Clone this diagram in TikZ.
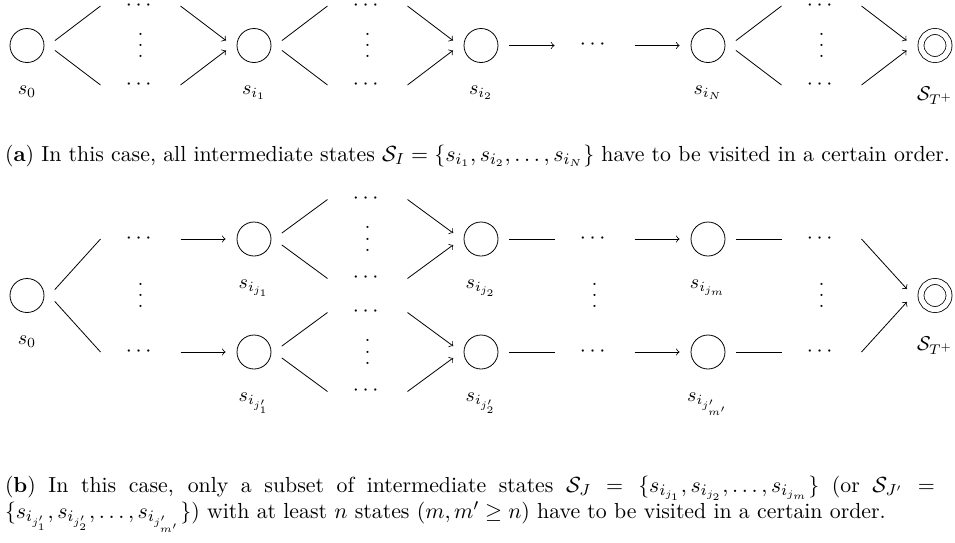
\documentclass[tikz,border=0pt]{standalone}
\usepackage{amsmath, amssymb}
\usepackage{tikz}
\usetikzlibrary{positioning}

\newcommand{\vdts}{\vbox{\baselineskip=5.6pt\lineskiplimit=0pt\hbox{.}\hbox{.}\hbox{.}}}

\tikzset{
    state/.style={draw, circle, minimum size=17pt, inner sep=0pt, outer sep=5.7pt, on grid},
    goal/.style={draw, circle, double, double distance=2.6pt, minimum size=14pt, inner sep=0pt, outer sep=7.4pt, on grid},
    dots/.style={minimum width=40pt, inner sep=0pt, outer sep=0pt, text height=4pt, text depth=-1.5pt, font=\fontsize{11}{13}\selectfont, on grid},
    vdot/.style={inner sep=0pt, font=\fontsize{11}{13}\selectfont, on grid},
    lbl/.style={inner sep=0pt},
    caption/.style={inner sep=0pt, font=\fontsize{10.9}{13}\selectfont}
}

\begin{document}
\begin{tikzpicture}[x=0.5pt, y=-0.5pt]
        \useasboundingbox (0,0) rectangle (955,542);

        \node[state] (a0) at (27,45.5) {};
        \node[dots, above right=19.75pt and 56.75pt of a0] (a01u) {$\cdots$};
        \node[vdot, right=56.75pt of a0] (a01m) {\vdts};
        \node[dots, below right=19.75pt and 56.75pt of a0] (a01d) {$\cdots$};
        \node[state, right=113.5pt of a0] (a1) {};
        \node[dots, above right=19.75pt and 56.75pt of a1] (a12u) {$\cdots$};
        \node[vdot, right=56.75pt of a1] (a12m) {\vdts};
        \node[dots, below right=19.75pt and 56.75pt of a1] (a12d) {$\cdots$};
        \node[state, right=113.5pt of a1] (a2) {};
        \node[dots, right=56.75pt of a2] (a23) {$\cdots$};
        \node[state, right=113.5pt of a2] (a3) {};
        \node[dots, above right=19.75pt and 56.75pt of a3] (a34u) {$\cdots$};
        \node[vdot, right=56.75pt of a3] (a34m) {\vdts};
        \node[dots, below right=19.75pt and 56.75pt of a3] (a34d) {$\cdots$};
        \node[goal, right=113.5pt of a3] (a4) {};

        \node[lbl, below=6pt of a0] (a0l) {$s_0$};
        \node[lbl, below=6pt of a1] (a1l) {$s_{i_1}$};
        \node[lbl, below=6pt of a2] (a2l) {$s_{i_2}$};
        \node[lbl, below=6pt of a3] (a3l) {$s_{i_N}$};
        \node[lbl, below=6pt of a4] (a4l) {$\mathcal{S}_{T^+}$};

        \draw (a0.10) -- (a01u.west);
        \draw (a0.-10) -- (a01d.west);
        \draw[->] (a01u.east) -- (a1.170);
        \draw[->] (a01d.east) -- (a1.190);
        \draw (a1.10) -- (a12u.west);
        \draw (a1.-10) -- (a12d.west);
        \draw[->] (a12u.east) -- (a2.170);
        \draw[->] (a12d.east) -- (a2.190);
        \draw[->] (a2) -- (a23);
        \draw[->] (a23) -- (a3);
        \draw (a3.10) -- (a34u.west);
        \draw (a3.-10) -- (a34d.west);
        \draw[->] (a34u.east) -- (a4.170);
        \draw[->] (a34d.east) -- (a4.190);

        \node[caption] (capa) at (477.5,156) {(\textbf{a}) In this case, all intermediate states $\mathcal{S}_I = \{s_{i_1}, s_{i_2}, \dots, s_{i_N}\}$ have to be visited in a certain order.};

        \node[state] (b0) at (27,295.5) {};
        \node[dots, above right=28.25pt and 56.75pt of b0] (b01u) {$\cdots$};
        \node[vdot, right=56.75pt of b0] (b01m) {\vdts};
        \node[dots, below right=28.25pt and 56.75pt of b0] (b01d) {$\cdots$};
        \node[state, above right=28.25pt and 113.5pt of b0] (b1u) {};
        \node[state, below right=28.25pt and 113.5pt of b0] (b1d) {};
        \node[dots, above right=19.75pt and 56.75pt of b1u] (b12uu) {$\cdots$};
        \node[vdot, right=56.75pt of b1u] (b12um) {\vdts};
        \node[dots, below right=19.75pt and 56.75pt of b1u] (b12ud) {$\cdots$};
        \node[dots, above right=19.75pt and 56.75pt of b1d] (b12du) {$\cdots$};
        \node[vdot, right=56.75pt of b1d] (b12dm) {\vdts};
        \node[dots, below right=19.75pt and 56.75pt of b1d] (b12dd) {$\cdots$};
        \node[state, right=113.5pt of b1u] (b2u) {};
        \node[state, right=113.5pt of b1d] (b2d) {};
        \node[dots, right=56.75pt of b2u] (b23u) {$\cdots$};
        \node[vdot, below=28.25pt of b23u] (b23m) {\vdts};
        \node[dots, right=56.75pt of b2d] (b23d) {$\cdots$};
        \node[state, right=113.5pt of b2u] (b3u) {};
        \node[state, right=113.5pt of b2d] (b3d) {};
        \node[dots, right=56.75pt of b3u] (b34u) {$\cdots$};
        \node[vdot, below=28.25pt of b34u] (b34m) {\vdts};
        \node[dots, right=56.75pt of b3d] (b34d) {$\cdots$};
        \node[goal, below right=28.25pt and 113.5pt of b3u] (b4) {};

        \node[lbl, below=6pt of b0] (b0l) {$s_0$};
        \node[lbl, below=6pt of b1u] (b1ul) {$s_{i_{j_1}}$};
        \node[lbl, below=6pt of b1d] (b1dl) {$s_{i_{j'_1}}$};
        \node[lbl, below=6pt of b2u] (b2ul) {$s_{i_{j_2}}$};
        \node[lbl, below=6pt of b2d] (b2dl) {$s_{i_{j'_2}}$};
        \node[lbl, below=6pt of b3u] (b3ul) {$s_{i_{j_m}}$};
        \node[lbl, below=6pt of b3d] (b3dl) {$s_{i_{j'_{m'}}}$};
        \node[lbl, below=6pt of b4] (b4l) {$\mathcal{S}_{T^+}$};

        \draw (b0.12) -- (b01u.west);
        \draw (b0.-12) -- (b01d.west);
        \draw[->] (b01u) -- (b1u);
        \draw[->] (b01d) -- (b1d);
        \draw (b1u.12) -- (b12uu.west);
        \draw (b1u.-12) -- (b12ud.west);
        \draw (b1d.12) -- (b12du.west);
        \draw (b1d.-12) -- (b12dd.west);
        \draw[->] (b12uu.east) -- (b2u.168);
        \draw[->] (b12ud.east) -- (b2u.192);
        \draw[->] (b12du.east) -- (b2d.168);
        \draw[->] (b12dd.east) -- (b2d.192);
        \draw (b2u) -- (b23u);
        \draw (b2d) -- (b23d);
        \draw[->] (b23u) -- (b3u);
        \draw[->] (b23d) -- (b3d);
        \draw (b3u) -- (b34u);
        \draw (b3d) -- (b34d);
        \draw[->] (b34u.east) -- (b4.167);
        \draw[->] (b34d.east) -- (b4.193);

        \node[caption, text width=472.5pt, align=justify] (capb) at (477.5,504) {(\textbf{b}) In this case, only a subset of intermediate states $\mathcal{S}_J = \{s_{i_{j_1}}, s_{i_{j_2}}, \dots, s_{i_{j_m}}\}$ (or $\mathcal{S}_{J'} ={}$\linebreak$\{s_{i_{j'_1}}, s_{i_{j'_2}}, \dots, s_{i_{j'_{m'}}}\}$) with at least $n$ states $(m, m' \geq n)$ have to be visited in a certain order.};
    \end{tikzpicture}
\end{document}
